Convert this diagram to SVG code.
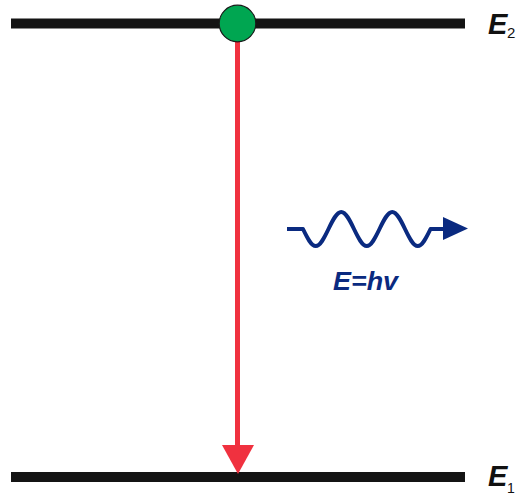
<svg xmlns="http://www.w3.org/2000/svg" width="518" height="496" viewBox="0 0 518 496">
<style>
.level{stroke:#141414;stroke-width:10;}
.lbl{font-family:"Liberation Sans",Arial,sans-serif;font-weight:bold;font-style:italic;fill:#111;}
.sub{font-family:"Liberation Sans",Arial,sans-serif;fill:#111;}
.wave{fill:none;stroke:#0a2a80;stroke-width:4;stroke-linejoin:round;}
</style>
<rect width="518" height="496" fill="#fff"/>
<g id="level-E2">
<line class="level" x1="11" y1="23.5" x2="465" y2="23.5"/>
<text class="lbl" x="488" y="34" font-size="29">E</text>
<text class="sub" x="507" y="38" font-size="15">2</text>
</g>
<g id="level-E1">
<line class="level" x1="11" y1="477" x2="465" y2="477"/>
<text class="lbl" x="488" y="486" font-size="29">E</text>
<text class="sub" x="507" y="493" font-size="14">1</text>
</g>
<g id="connectors">
<line x1="237.5" y1="40" x2="237.5" y2="450" stroke="#f0313f" stroke-width="5"/>
<polygon points="222,445 254,445 238,474" fill="#f0313f"/>
</g>
<g id="electron">
<circle cx="237.5" cy="23.5" r="18.3" fill="#00a651" stroke="#1a1a1a" stroke-width="1.2"/>
</g>
<g id="photon">
<path class="wave" d="M287,229 H303 c4.27,8.9 8.16,17 12.75,17 c4.59,0 8.48,-8.1 12.75,-17 c4.27,-8.9 8.16,-17 12.75,-17 c4.59,0 8.48,8.1 12.75,17 c4.27,8.9 8.16,17 12.75,17 c4.59,0 8.48,-8.1 12.75,-17 c4.27,-8.9 8.16,-17 12.75,-17 c4.59,0 8.48,8.1 12.75,17 c4.27,8.9 8.16,17 12.75,17 c4.59,0 8.48,-8.1 12.75,-17 H446"/>
<polygon points="443,217 468,228.5 443,240" fill="#0a2a80"/>
<text x="333" y="289.5" font-family="Liberation Sans,Arial,sans-serif" font-weight="bold" font-style="italic" font-size="25" textLength="65" lengthAdjust="spacingAndGlyphs" fill="#0a2a80">E=hv</text>
</g>
</svg>
